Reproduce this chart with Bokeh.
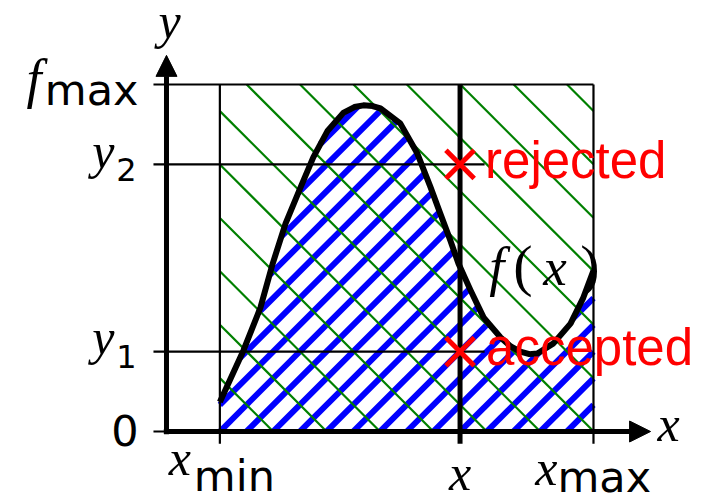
import numpy as np
from bokeh.plotting import figure
from bokeh.models import Range1d, Arrow, NormalHead
from bokeh.core.properties import value
from bokeh.embed import file_html
from bokeh.resources import INLINE

# Sampling interval, probe point and bounds of the acceptance box
x_min, x_pt, x_max = 1.0, 5.5, 8.0
y_0, y_1, y_2, f_max = 0.0, 0.23, 0.77, 1.0

# Target density f(x)
curve_x = [1.00, 1.44, 1.76, 1.99, 2.23, 2.51, 2.75, 3.02, 3.32, 3.52, 3.69, 3.86, 4.01,
           4.38, 4.70, 4.95, 5.13, 5.32, 5.47, 5.70, 5.94, 6.26, 6.45, 6.63, 6.80,
           6.95, 7.25, 7.57, 7.81, 8.00]
curve_y = [0.085, 0.233, 0.357, 0.484, 0.599, 0.703, 0.790, 0.867, 0.919, 0.935, 0.940, 0.938, 0.931,
           0.888, 0.801, 0.703, 0.628, 0.550, 0.484, 0.406, 0.329, 0.271, 0.245, 0.230, 0.223,
           0.225, 0.254, 0.311, 0.386, 0.464]

# Axis ends and tick stubs
x_axis_from, x_axis_to = -0.05, 9.07
y_axis_from, y_axis_to = -0.008, 1.084
tick_left, tick_below = -0.244, -0.035
probe_line_end = 5.96

W, H = 704, 502
X0, X1 = -3.11, 10.08
Y0, Y1 = -0.2046, 1.2421
sx = W / (X1 - X0)   # pixels per x unit
sy = H / (Y1 - Y0)   # pixels per y unit

p = figure(width=W, height=H, x_range=Range1d(X0, X1), y_range=Range1d(Y0, Y1),
           x_axis_type=None, y_axis_type=None, toolbar_location=None,
           output_backend="svg", min_border=0)
p.outline_line_color = None
p.background_fill_color = "white"
p.border_fill_color = "white"


def hatch(slope, gap_px, top):
    """Parallel lines w = slope*u + k*gap (u, w in pixels from (x_min, 0)),
    clipped to 0 <= w <= top(x) inside [x_min, x_max]."""
    u = np.linspace(0.0, (x_max - x_min) * sx, 6000)
    xs = x_min + u / sx
    top_w = top(xs) * sy
    x0s, y0s, x1s, y1s = [], [], [], []
    span = (x_max - x_min) * sx + f_max * sy
    for k in range(-int(span / gap_px) - 2, int(span / gap_px) + 3):
        w = slope * u + k * gap_px
        m = (w >= 0) & (w <= top_w)
        edges = np.flatnonzero(np.diff(np.r_[0, m.astype(int), 0]))
        for s, e in edges.reshape(-1, 2):
            e -= 1
            if e <= s:
                continue
            x0s.append(xs[s]); y0s.append(w[s] / sy)
            x1s.append(xs[e]); y1s.append(w[e] / sy)
    return x0s, y0s, x1s, y1s


# area under f(x): "/" lines
bx0, by0, bx1, by1 = hatch(1.0, 26.7, lambda x: np.interp(x, curve_x, curve_y))
p.segment(bx0, by0, bx1, by1, line_color="#0000ff", line_width=6)

# whole box: "\" lines
gx0, gy0, gx1, gy1 = hatch(-1.0, 53.4, lambda x: np.full_like(x, f_max))
p.segment(gx0, gy0, gx1, gy1, line_color="#008000", line_width=2.2)

# horizontal guides with their tick stubs
p.segment([tick_left] * 4, [y_0, y_1, y_2, f_max],
          [0, probe_line_end, probe_line_end, x_max], [y_0, y_1, y_2, f_max],
          line_color="black", line_width=2.2)
# vertical guides
p.segment([x_min, x_max], [tick_below] * 2, [x_min, x_max], [f_max] * 2,
          line_color="black", line_width=2.2)
p.segment([x_pt], [tick_below], [x_pt], [f_max], line_color="black", line_width=5)

# the density curve
p.line(curve_x, curve_y, line_color="black", line_width=6, line_join="round")

# axes with arrow heads
for xs_, ys_, xe_, ye_ in [(x_axis_from, 0, x_axis_to, 0), (0, y_axis_from, 0, y_axis_to)]:
    p.add_layout(Arrow(end=NormalHead(size=21, fill_color="black", line_color="black", line_width=1),
                       x_start=xs_, y_start=ys_, x_end=xe_, y_end=ye_,
                       line_color="black", line_width=5))

# sampled points
p.scatter([x_pt, x_pt], [y_2, y_1], marker="x", size=40, line_color="#ff0000", line_width=5)

MATH = dict(text_font=value("Liberation Serif"), text_font_style="italic",
            text_font_size="50px", text_color="black", text_baseline="alphabetic")
SANS = dict(text_font=value("DejaVu Sans"), text_font_size="43px",
            text_color="black", text_baseline="alphabetic")
SUB = dict(SANS, text_font_size="32px")
RED = dict(text_font=value("Liberation Sans"), text_font_size="51px",
           text_color="#ff0000", text_baseline="alphabetic", text_align="left")

# y-axis labels
p.text([0], [y_0], text=["0"], x_offset=-28, y_offset=-1, text_align="right", **SANS)
p.text([0], [f_max], text=["max"], x_offset=-28, y_offset=5, text_align="right", **SANS)
p.text([0], [f_max], text=["f"], x_offset=-125, y_offset=-6, text_align="right",
       **dict(MATH, text_font_size="54px"))
p.text([0, 0], [y_1, y_2], text=["1", "2"], x_offset=-30, y_offset=5, text_align="right", **SUB)
p.text([0, 0], [y_1, y_2], text=["y", "y"], x_offset=-52, y_offset=[-15, -13], text_align="right", **MATH)

# x-axis labels
p.text([x_min], [0], text=["x"], x_offset=-29, y_offset=26, text_align="right", **MATH)
p.text([x_min], [0], text=["min"], x_offset=-26, y_offset=44, text_align="left", **SANS)
p.text([x_pt], [0], text=["x"], x_offset=0, y_offset=41, text_align="center", **MATH)
p.text([x_max], [0], text=["x"], x_offset=-36, y_offset=36, text_align="right", **MATH)
p.text([x_max], [0], text=["max"], x_offset=-36, y_offset=45, text_align="left", **SANS)

# axis names
p.text([0], [y_axis_to], text=["y"], x_offset=3, y_offset=-34, text_align="center", **MATH)
p.text([x_axis_to], [0], text=["x"], x_offset=7, y_offset=-8, text_align="left", **MATH)

# curve label f(x)
fx_x, fx_y = 6.03, 0.42
p.text([fx_x], [fx_y], text=["f"], x_offset=1, y_offset=-19, text_align="left",
       **dict(MATH, text_font_size="54px"))
p.text([fx_x], [fx_y], text=["x"], x_offset=55, y_offset=-19, text_align="left",
       **dict(MATH, text_font_size="53px"))
p.text([fx_x, fx_x], [fx_y, fx_y], text=["(", ")"], x_offset=[25, 92], y_offset=-20,
       text_align="left", **dict(MATH, text_font_style="normal", text_font_size="58px"))

# outcome labels
p.text([x_pt], [y_2], text=["rejected"], x_offset=25, y_offset=-4, **RED)
p.text([x_pt], [y_1], text=["accepted"], x_offset=26, y_offset=-4, **RED)

open("out.html", "w").write(file_html(p, INLINE))
